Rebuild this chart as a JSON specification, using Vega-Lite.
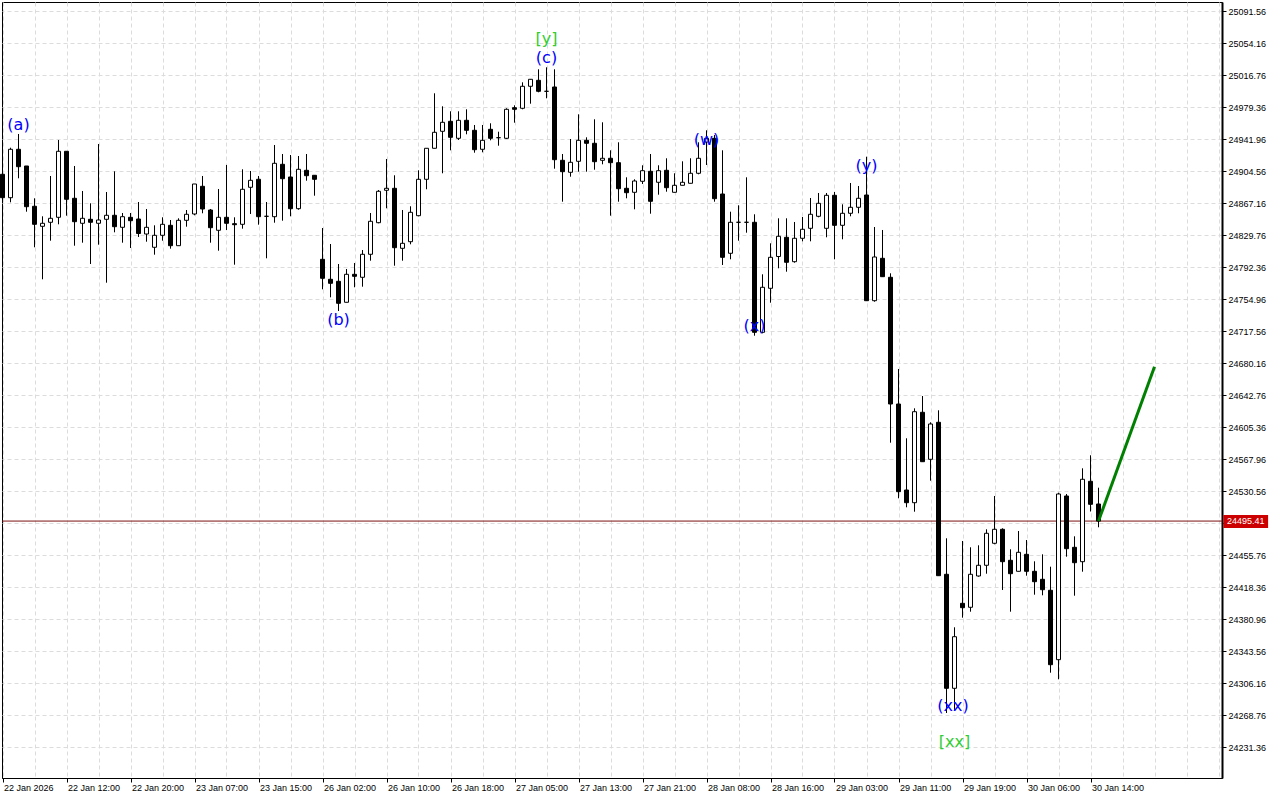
{
 "$schema": "https://vega.github.io/schema/vega-lite/v6.json",
 "width": 1220,
 "height": 776,
 "autosize": {"type": "none"},
 "padding": {"left": 2, "top": 2, "right": 58, "bottom": 22},
 "background": "white",
 "config": {
  "view": {"stroke": "black", "strokeWidth": 1},
  "axis": {"labelFont": "Liberation Sans", "labelFontSize": 9, "labelColor": "black"},
  "scale": {"continuousPadding": 0}
 },
 "datasets": {
  "candles": [
   {"k":0,"o":24900.71,"h":24908.07,"l":24867.16,"c":24873.36},
   {"k":1,"o":24873.36,"h":24931.80,"l":24867.98,"c":24929.93},
   {"k":2,"o":24929.93,"h":24947.81,"l":24896.03,"c":24909.59},
   {"k":3,"o":24910.41,"h":24910.41,"l":24857.00,"c":24862.84},
   {"k":4,"o":24863.31,"h":24872.66,"l":24815.39,"c":24842.27},
   {"k":5,"o":24839.93,"h":24851.62,"l":24777.99,"c":24843.44},
   {"k":6,"o":24844.61,"h":24898.72,"l":24823.10,"c":24849.28},
   {"k":7,"o":24850.45,"h":24940.79,"l":24842.27,"c":24927.59},
   {"k":8,"o":24927.59,"h":24927.59,"l":24852.32,"c":24871.49},
   {"k":9,"o":24872.66,"h":24910.41,"l":24817.26,"c":24845.31},
   {"k":10,"o":24843.44,"h":24881.19,"l":24820.76,"c":24849.28},
   {"k":11,"o":24848.11,"h":24866.81,"l":24795.87,"c":24844.61},
   {"k":12,"o":24843.44,"h":24936.12,"l":24818.43,"c":24847.29},
   {"k":13,"o":24848.11,"h":24880.02,"l":24774.01,"c":24852.79},
   {"k":14,"o":24852.79,"h":24904.21,"l":24832.92,"c":24839.46},
   {"k":15,"o":24838.76,"h":24855.48,"l":24820.76,"c":24851.15},
   {"k":16,"o":24850.45,"h":24855.48,"l":24814.57,"c":24846.48},
   {"k":17,"o":24848.46,"h":24868.33,"l":24827.43,"c":24831.52},
   {"k":18,"o":24830.93,"h":24860.15,"l":24821.93,"c":24838.76},
   {"k":19,"o":24815.39,"h":24841.10,"l":24806.74,"c":24829.41},
   {"k":20,"o":24829.41,"h":24850.45,"l":24823.10,"c":24842.27},
   {"k":21,"o":24841.10,"h":24847.29,"l":24813.75,"c":24817.26},
   {"k":22,"o":24817.26,"h":24849.28,"l":24817.26,"c":24846.94},
   {"k":23,"o":24846.94,"h":24858.98,"l":24839.46,"c":24853.96},
   {"k":24,"o":24854.31,"h":24889.37,"l":24852.79,"c":24889.37},
   {"k":25,"o":24886.68,"h":24898.72,"l":24855.13,"c":24860.15},
   {"k":26,"o":24858.98,"h":24860.15,"l":24820.76,"c":24838.30},
   {"k":27,"o":24835.26,"h":24883.53,"l":24811.41,"c":24850.45},
   {"k":28,"o":24850.45,"h":24911.58,"l":24835.61,"c":24843.44},
   {"k":29,"o":24842.97,"h":24850.45,"l":24795.05,"c":24841.80},
   {"k":30,"o":24842.27,"h":24906.55,"l":24837.13,"c":24883.18},
   {"k":31,"o":24885.51,"h":24904.56,"l":24854.31,"c":24893.69},
   {"k":32,"o":24894.86,"h":24898.72,"l":24841.80,"c":24851.15},
   {"k":33,"o":24851.62,"h":24868.33,"l":24802.53,"c":24851.62},
   {"k":34,"o":24851.15,"h":24934.95,"l":24844.14,"c":24913.56},
   {"k":35,"o":24912.39,"h":24924.43,"l":24846.48,"c":24895.56},
   {"k":36,"o":24897.55,"h":24923.26,"l":24851.62,"c":24860.50},
   {"k":37,"o":24860.50,"h":24922.09,"l":24859.33,"c":24906.55},
   {"k":38,"o":24905.38,"h":24924.43,"l":24893.23,"c":24899.07},
   {"k":39,"o":24899.54,"h":24899.54,"l":24875.70,"c":24894.86},
   {"k":40,"o":24801.36,"h":24837.94,"l":24766.30,"c":24779.16},
   {"k":41,"o":24777.99,"h":24819.24,"l":24756.95,"c":24773.31},
   {"k":42,"o":24775.65,"h":24795.87,"l":24740.94,"c":24749.94},
   {"k":43,"o":24751.11,"h":24790.03,"l":24751.11,"c":24783.83},
   {"k":44,"o":24783.83,"h":24797.04,"l":24768.64,"c":24781.49},
   {"k":45,"o":24780.33,"h":24812.23,"l":24769.34,"c":24807.21},
   {"k":46,"o":24807.21,"h":24855.48,"l":24799.73,"c":24845.78},
   {"k":47,"o":24844.14,"h":24882.36,"l":24843.44,"c":24880.84},
   {"k":48,"o":24882.01,"h":24918.59,"l":24860.97,"c":24884.34},
   {"k":49,"o":24884.34,"h":24899.54,"l":24793.88,"c":24814.92},
   {"k":50,"o":24814.22,"h":24858.98,"l":24799.73,"c":24820.06},
   {"k":51,"o":24821.93,"h":24863.31,"l":24818.89,"c":24856.29},
   {"k":52,"o":24852.32,"h":24905.38,"l":24851.62,"c":24894.86},
   {"k":53,"o":24894.86,"h":24931.10,"l":24883.18,"c":24931.10},
   {"k":54,"o":24931.10,"h":24995.38,"l":24931.10,"c":24949.79},
   {"k":55,"o":24950.96,"h":24980.18,"l":24901.88,"c":24961.48},
   {"k":56,"o":24962.65,"h":24974.34,"l":24928.76,"c":24943.95},
   {"k":57,"o":24942.78,"h":24974.34,"l":24940.79,"c":24963.82},
   {"k":58,"o":24963.82,"h":24976.67,"l":24947.46,"c":24952.13},
   {"k":59,"o":24952.13,"h":24958.33,"l":24925.95,"c":24929.46},
   {"k":60,"o":24929.93,"h":24958.33,"l":24926.42,"c":24940.44},
   {"k":61,"o":24953.30,"h":24960.31,"l":24940.44,"c":24942.78},
   {"k":62,"o":24943.48,"h":24950.50,"l":24934.13,"c":24943.48},
   {"k":63,"o":24942.78,"h":24977.85,"l":24941.96,"c":24976.67},
   {"k":64,"o":24978.55,"h":24981.35,"l":24961.01,"c":24976.67},
   {"k":65,"o":24977.85,"h":25008.23,"l":24976.67,"c":25003.56},
   {"k":66,"o":25003.56,"h":25011.74,"l":24983.22,"c":25011.74},
   {"k":67,"o":25010.57,"h":25023.43,"l":24996.54,"c":24997.71},
   {"k":68,"o":24997.71,"h":25025.76,"l":24989.53,"c":24997.71},
   {"k":69,"o":25002.74,"h":25023.43,"l":24907.25,"c":24917.77},
   {"k":70,"o":24917.07,"h":24924.43,"l":24868.68,"c":24903.75},
   {"k":71,"o":24903.05,"h":24941.96,"l":24897.90,"c":24914.73},
   {"k":72,"o":24915.90,"h":24970.83,"l":24903.75,"c":24940.44},
   {"k":73,"o":24940.44,"h":24943.95,"l":24903.75,"c":24936.94},
   {"k":74,"o":24936.94,"h":24964.99,"l":24906.08,"c":24915.43},
   {"k":75,"o":24917.07,"h":24961.48,"l":24912.39,"c":24919.41},
   {"k":76,"o":24919.41,"h":24928.76,"l":24852.32,"c":24914.26},
   {"k":77,"o":24914.26,"h":24938.11,"l":24868.68,"c":24883.88},
   {"k":78,"o":24884.34,"h":24897.20,"l":24872.66,"c":24879.20},
   {"k":79,"o":24879.67,"h":24894.86,"l":24859.80,"c":24892.88},
   {"k":80,"o":24892.53,"h":24911.23,"l":24889.37,"c":24904.91},
   {"k":81,"o":24904.21,"h":24924.43,"l":24854.66,"c":24869.15},
   {"k":82,"o":24891.36,"h":24911.23,"l":24876.86,"c":24904.91},
   {"k":83,"o":24905.38,"h":24919.41,"l":24880.37,"c":24885.05},
   {"k":84,"o":24879.67,"h":24901.88,"l":24879.67,"c":24887.85},
   {"k":85,"o":24887.85,"h":24915.90,"l":24887.85,"c":24891.36},
   {"k":86,"o":24890.19,"h":24919.41,"l":24890.19,"c":24901.88},
   {"k":87,"o":24901.88,"h":24938.11,"l":24900.71,"c":24919.41},
   {"k":88,"o":24938.46,"h":24952.13,"l":24911.58,"c":24942.78},
   {"k":89,"o":24942.78,"h":24946.64,"l":24868.68,"c":24872.19},
   {"k":90,"o":24877.68,"h":24928.76,"l":24794.70,"c":24803.70},
   {"k":91,"o":24808.38,"h":24857.00,"l":24801.36,"c":24844.61},
   {"k":92,"o":24844.61,"h":24864.48,"l":24823.10,"c":24844.61},
   {"k":93,"o":24844.61,"h":24897.20,"l":24832.45,"c":24844.61},
   {"k":94,"o":24844.61,"h":24853.96,"l":24712.07,"c":24716.04},
   {"k":95,"o":24716.04,"h":24783.83,"l":24714.87,"c":24768.64},
   {"k":96,"o":24767.47,"h":24820.06,"l":24750.64,"c":24803.70},
   {"k":97,"o":24804.64,"h":24849.28,"l":24790.84,"c":24828.25},
   {"k":98,"o":24827.08,"h":24849.28,"l":24786.87,"c":24797.86},
   {"k":99,"o":24798.56,"h":24844.96,"l":24797.39,"c":24825.91},
   {"k":100,"o":24825.91,"h":24850.80,"l":24822.40,"c":24836.43},
   {"k":101,"o":24837.59,"h":24873.01,"l":24822.40,"c":24853.96},
   {"k":102,"o":24851.62,"h":24878.85,"l":24850.45,"c":24866.81},
   {"k":103,"o":24837.59,"h":24878.85,"l":24827.08,"c":24876.16},
   {"k":104,"o":24876.16,"h":24880.02,"l":24801.36,"c":24841.10},
   {"k":105,"o":24841.10,"h":24865.64,"l":24824.74,"c":24855.13},
   {"k":106,"o":24855.13,"h":24890.54,"l":24851.62,"c":24862.14},
   {"k":107,"o":24862.14,"h":24887.03,"l":24855.13,"c":24872.66},
   {"k":108,"o":24876.51,"h":24921.28,"l":24752.98,"c":24752.98},
   {"k":109,"o":24752.98,"h":24839.11,"l":24751.81,"c":24804.05},
   {"k":110,"o":24802.53,"h":24835.61,"l":24781.03,"c":24781.03},
   {"k":111,"o":24780.33,"h":24785.00,"l":24587.02,"c":24632.24},
   {"k":112,"o":24632.24,"h":24673.15,"l":24522.03,"c":24529.74},
   {"k":113,"o":24531.73,"h":24592.16,"l":24511.51,"c":24516.89},
   {"k":114,"o":24516.89,"h":24627.22,"l":24506.37,"c":24623.25},
   {"k":115,"o":24622.55,"h":24641.59,"l":24564.81,"c":24564.81},
   {"k":116,"o":24567.61,"h":24610.86,"l":24542.60,"c":24608.87},
   {"k":117,"o":24610.86,"h":24624.88,"l":24431.57,"c":24431.57},
   {"k":118,"o":24433.21,"h":24475.28,"l":24271.10,"c":24299.97},
   {"k":119,"o":24299.97,"h":24371.26,"l":24274.61,"c":24360.28},
   {"k":120,"o":24399.31,"h":24472.13,"l":24382.48,"c":24394.17},
   {"k":121,"o":24394.64,"h":24464.76,"l":24389.49,"c":24433.21},
   {"k":122,"o":24431.22,"h":24467.10,"l":24430.40,"c":24443.73},
   {"k":123,"o":24443.73,"h":24485.80,"l":24433.91,"c":24481.13},
   {"k":124,"o":24469.44,"h":24524.72,"l":24468.27,"c":24485.80},
   {"k":125,"o":24485.80,"h":24486.97,"l":24414.86,"c":24447.94},
   {"k":126,"o":24449.57,"h":24462.43,"l":24389.49,"c":24433.91},
   {"k":127,"o":24436.71,"h":24483.81,"l":24436.71,"c":24458.92},
   {"k":128,"o":24456.58,"h":24473.29,"l":24431.57,"c":24436.71},
   {"k":129,"o":24436.71,"h":24448.40,"l":24409.36,"c":24424.56},
   {"k":130,"o":24427.36,"h":24456.58,"l":24408.66,"c":24415.20},
   {"k":131,"o":24414.51,"h":24442.09,"l":24318.20,"c":24327.55},
   {"k":132,"o":24333.40,"h":24528.58,"l":24310.49,"c":24527.06},
   {"k":133,"o":24524.72,"h":24527.06,"l":24453.78,"c":24463.13},
   {"k":134,"o":24464.76,"h":24477.62,"l":24408.19,"c":24446.76},
   {"k":135,"o":24447.94,"h":24557.09,"l":24436.24,"c":24544.24},
   {"k":136,"o":24541.90,"h":24572.29,"l":24506.60,"c":24515.02},
   {"k":137,"o":24515.37,"h":24534.42,"l":24488.14,"c":24495.41}
  ],
  "waves": [
   {"k":2,"p":24958.33,"t":"(a)","lvl":"minor"},
   {"k":42,"p":24730.42,"t":"(b)","lvl":"minor"},
   {"k":68,"p":25036.63,"t":"(c)","lvl":"minor"},
   {"k":68,"p":25058.84,"t":"[y]","lvl":"major"},
   {"k":88,"p":24940.79,"t":"(w)","lvl":"minor"},
   {"k":94,"p":24723.41,"t":"(x)","lvl":"minor"},
   {"k":108,"p":24910.41,"t":"(y)","lvl":"minor"},
   {"k":118.8,"p":24279.28,"t":"(xx)","lvl":"minor"},
   {"k":119,"p":24237.21,"t":"[xx]","lvl":"major"}
  ],
  "proj": [
   {"k":137,"p":24495.41},
   {"k":144,"p":24675.84}
  ],
  "last": [
   {"p":24495.41}
  ]
 },
 "layer": [
  {
   "data": {"name": "last"},
   "mark": {"type": "rule", "color": "#7a1010", "strokeWidth": 1},
   "encoding": {"y": {"field": "p", "type": "quantitative", "title": null}}
  },
  {
   "data": {"name": "candles"},
   "mark": {"type": "rule", "color": "black", "strokeWidth": 1},
   "encoding": {
    "x": {
     "field": "k", "type": "quantitative", "title": null,
     "scale": {"domain": [-0.0625, 152.4375], "nice": false, "zero": false, "padding": 0},
     "axis": {
      "orient": "bottom",
      "values": [0,4,8,12,16,20,24,28,32,36,40,44,48,52,56,60,64,68,72,76,80,84,88,92,96,100,104,108,112,116,120,124,128,132,136,140,144,148,152],
      "tickCount": 500,
      "grid": true, "gridColor": "#DCDCDC", "gridDash": [4, 3], "gridWidth": 1,
      "domainColor": "black", "tickColor": "black", "tickSize": 4,
      "tickOpacity": {"condition": {"test": "datum.value % 8 === 0 && datum.value <= 136", "value": 1}, "value": 0},
      "labelAlign": "left", "labelPadding": 1, "labelOffset": 1,
      "labelBound": false, "labelFlush": false, "labelOverlap": false,
      "labelExpr": "(datum.value % 8 === 0 && datum.value <= 136) ? ['22 Jan 2026','22 Jan 12:00','22 Jan 20:00','23 Jan 07:00','23 Jan 15:00','26 Jan 02:00','26 Jan 10:00','26 Jan 18:00','27 Jan 05:00','27 Jan 13:00','27 Jan 21:00','28 Jan 08:00','28 Jan 16:00','29 Jan 03:00','29 Jan 11:00','29 Jan 19:00','30 Jan 06:00','30 Jan 14:00'][datum.value / 8] : ''",
      "title": null
     }
    },
    "y": {
     "field": "l", "type": "quantitative", "title": null,
     "scale": {"domain": [24195.13, 25102.08], "nice": false, "zero": false},
     "axis": {
      "orient": "right",
      "values": [24231.36,24268.76,24306.16,24343.56,24380.96,24418.36,24455.76,24493.16,24530.56,24567.96,24605.36,24642.76,24680.16,24717.56,24754.96,24792.36,24829.76,24867.16,24904.56,24941.96,24979.36,25016.76,25054.16,25091.56],
      "tickCount": 500,
      "grid": true, "gridColor": "#DCDCDC", "gridDash": [4, 3], "gridWidth": 1,
      "domainColor": "black", "domainWidth": 2, "tickColor": "black", "tickSize": 4,
      "labelPadding": 2, "labelBound": false, "labelOverlap": false,
      "labelExpr": "datum.value == 24493.16 ? '' : format(datum.value, '.2f')",
      "title": null
     }
    },
    "y2": {"field": "h"}
   }
  },
  {
   "data": {"name": "candles"},
   "mark": {"type": "bar", "size": 4, "stroke": "black", "strokeWidth": 1},
   "encoding": {
    "x": {"field": "k", "type": "quantitative", "title": null},
    "y": {"field": "o", "type": "quantitative", "title": null},
    "y2": {"field": "c"},
    "fill": {"condition": {"test": "datum.c > datum.o", "value": "white"}, "value": "black"}
   }
  },
  {
   "data": {"name": "proj"},
   "mark": {"type": "line", "color": "#008000", "strokeWidth": 3},
   "encoding": {
    "x": {"field": "k", "type": "quantitative", "title": null},
    "y": {"field": "p", "type": "quantitative", "title": null}
   }
  },
  {
   "data": {"name": "waves"},
   "mark": {"type": "text", "font": "DejaVu Sans", "fontSize": 16, "align": "center", "baseline": "middle"},
   "encoding": {
    "x": {"field": "k", "type": "quantitative", "title": null},
    "y": {"field": "p", "type": "quantitative", "title": null},
    "text": {"field": "t"},
    "color": {"field": "lvl", "type": "nominal", "scale": {"domain": ["minor", "major"], "range": ["#0000FF", "#32CD32"]}, "legend": null}
   }
  },
  {
   "data": {"name": "last"},
   "mark": {"type": "rect", "color": "#CC0000", "clip": false},
   "encoding": {
    "x": {"datum": 152.6, "type": "quantitative"},
    "x2": {"datum": 158.2},
    "y": {"datum": 24502.5, "type": "quantitative"},
    "y2": {"datum": 24487.3}
   }
  },
  {
   "data": {"name": "last"},
   "mark": {"type": "text", "color": "white", "font": "Liberation Sans", "fontSize": 9, "align": "center", "baseline": "middle", "clip": false},
   "encoding": {
    "x": {"datum": 155.4, "type": "quantitative"},
    "y": {"field": "p", "type": "quantitative", "title": null},
    "text": {"field": "p", "type": "quantitative", "format": ".2f"}
   }
  }
 ]
}
